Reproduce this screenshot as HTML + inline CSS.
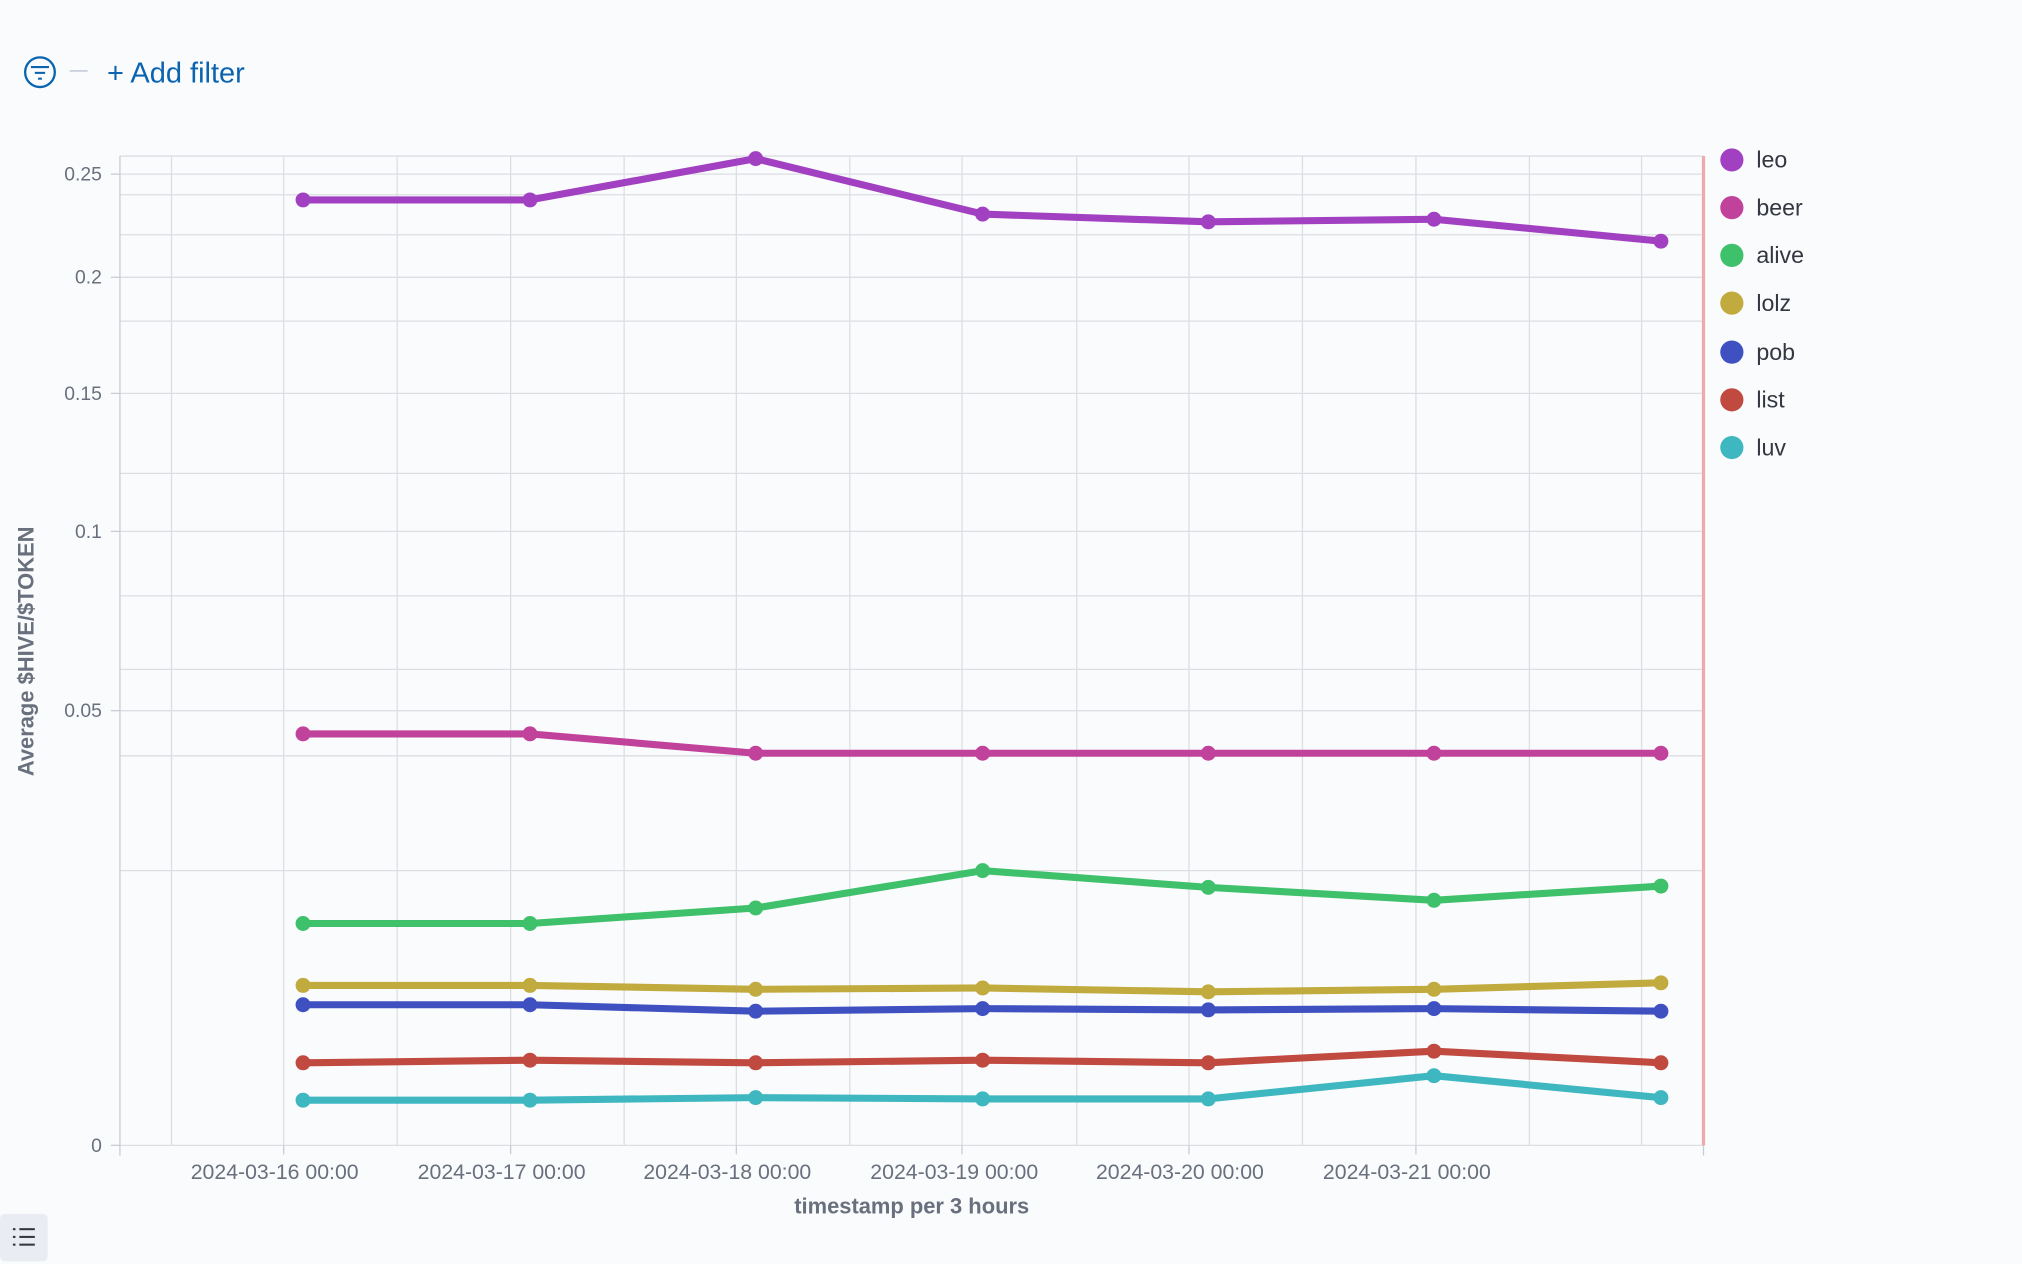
<!DOCTYPE html>
<html><head><meta charset="utf-8"><style>
html,body{margin:0;padding:0;background:#fafbfd;}
svg{display:block;font-family:"Liberation Sans",sans-serif;}
</style></head><body>
<svg width="2022" height="1264" viewBox="0 0 1568 980" preserveAspectRatio="none">
<rect width="1568" height="980" fill="#fafbfd"/>
<circle cx="31" cy="56" r="11.5" fill="none" stroke="#0b64b0" stroke-width="1.8"/>
<line x1="24" y1="52" x2="38" y2="52" stroke="#0b64b0" stroke-width="1.6"/>
<line x1="27" y1="56.5" x2="35" y2="56.5" stroke="#0b64b0" stroke-width="1.6"/>
<line x1="29.5" y1="61" x2="32.5" y2="61" stroke="#0b64b0" stroke-width="1.6"/>
<line x1="54" y1="55" x2="68" y2="55" stroke="#cdd3de" stroke-width="1.5"/>
<text x="83" y="64" font-size="22.5" fill="#0b64b0">+ Add filter</text>
<g stroke="#dcdee3" stroke-width="1">
<line x1="93" x2="1321" y1="121" y2="121"/>
<line x1="93" x2="1321" y1="151" y2="151"/>
<line x1="93" x2="1321" y1="182" y2="182"/>
<line x1="93" x2="1321" y1="249" y2="249"/>
<line x1="93" x2="1321" y1="367" y2="367"/>
<line x1="93" x2="1321" y1="462" y2="462"/>
<line x1="93" x2="1321" y1="519" y2="519"/>
<line x1="93" x2="1321" y1="586" y2="586"/>
<line x1="93" x2="1321" y1="675" y2="675"/>
<line x1="93" x2="1321" y1="135" y2="135"/>
<line x1="93" x2="1321" y1="215" y2="215"/>
<line x1="93" x2="1321" y1="305" y2="305"/>
<line x1="93" x2="1321" y1="412" y2="412"/>
<line x1="93" x2="1321" y1="551" y2="551"/>
<line x1="93" x2="1321" y1="888" y2="888"/>
</g>
<g stroke="#dcdee3" stroke-width="1">
<line x1="133" x2="133" y1="121" y2="888"/><line x1="220" x2="220" y1="121" y2="888"/>
<line x1="308" x2="308" y1="121" y2="888"/><line x1="396" x2="396" y1="121" y2="888"/>
<line x1="484" x2="484" y1="121" y2="888"/><line x1="571" x2="571" y1="121" y2="888"/>
<line x1="659" x2="659" y1="121" y2="888"/><line x1="746" x2="746" y1="121" y2="888"/>
<line x1="835" x2="835" y1="121" y2="888"/><line x1="922" x2="922" y1="121" y2="888"/>
<line x1="1010" x2="1010" y1="121" y2="888"/><line x1="1098" x2="1098" y1="121" y2="888"/>
<line x1="1186" x2="1186" y1="121" y2="888"/><line x1="1273" x2="1273" y1="121" y2="888"/>
</g>
<line x1="93" x2="93" y1="121" y2="896" stroke="#c9ccd2"/>
<g stroke="#c9ccd2">
<line x1="86" x2="93" y1="135" y2="135"/><line x1="86" x2="93" y1="215" y2="215"/>
<line x1="86" x2="93" y1="305" y2="305"/><line x1="86" x2="93" y1="412" y2="412"/>
<line x1="86" x2="93" y1="551" y2="551"/><line x1="86" x2="93" y1="888" y2="888"/>
<line x1="220" x2="220" y1="888" y2="895"/><line x1="396" x2="396" y1="888" y2="895"/>
<line x1="571" x2="571" y1="888" y2="895"/><line x1="746" x2="746" y1="888" y2="895"/>
<line x1="922" x2="922" y1="888" y2="895"/><line x1="1098" x2="1098" y1="888" y2="895"/>
<line x1="1321" x2="1321" y1="888" y2="896"/>
</g>
<line x1="1321" x2="1321" y1="121" y2="888" stroke="#f0a8a8" stroke-width="2.5"/>
<g font-size="15" fill="#69707d" text-anchor="end">
<text x="79" y="140">0.25</text><text x="79" y="220">0.2</text>
<text x="79" y="310">0.15</text><text x="79" y="417">0.1</text>
<text x="79" y="556">0.05</text><text x="79" y="893">0</text>
</g>
<text transform="translate(26,505) rotate(-90)" font-size="17" font-weight="bold" fill="#69707d" text-anchor="middle">Average $HIVE/$TOKEN</text>
<g font-size="16.5" fill="#69707d" text-anchor="middle">
<text x="213" y="914">2024-03-16 00:00</text><text x="389" y="914">2024-03-17 00:00</text>
<text x="564" y="914">2024-03-18 00:00</text><text x="740" y="914">2024-03-19 00:00</text>
<text x="915" y="914">2024-03-20 00:00</text><text x="1091" y="914">2024-03-21 00:00</text>
</g>
<text x="707" y="941" font-size="17" font-weight="bold" fill="#69707d" text-anchor="middle">timestamp per 3 hours</text>
<g fill="none" stroke-width="5.5" stroke-linejoin="round" stroke-linecap="round">
<polyline stroke="#a240c2" points="235,155 411,155 586,123 762,166 937,172 1112,170 1288,187"/>
<polyline stroke="#c0429b" points="235,569 411,569 586,584 762,584 937,584 1112,584 1288,584"/>
<polyline stroke="#3fc06a" points="235,716 411,716 586,704 762,675 937,688 1112,698 1288,687"/>
<polyline stroke="#c1ab3e" points="235,764 411,764 586,767 762,766 937,769 1112,767 1288,762"/>
<polyline stroke="#3f50c0" points="235,779 411,779 586,784 762,782 937,783 1112,782 1288,784"/>
<polyline stroke="#c04a3f" points="235,824 411,822 586,824 762,822 937,824 1112,815 1288,824"/>
<polyline stroke="#3fb7c0" points="235,853 411,853 586,851 762,852 937,852 1112,834 1288,851"/>
</g>
<g>
<g fill="#a240c2"><circle cx="235" cy="155" r="5.8"/><circle cx="411" cy="155" r="5.8"/><circle cx="586" cy="123" r="5.8"/><circle cx="762" cy="166" r="5.8"/><circle cx="937" cy="172" r="5.8"/><circle cx="1112" cy="170" r="5.8"/><circle cx="1288" cy="187" r="5.8"/></g>
<g fill="#c0429b"><circle cx="235" cy="569" r="5.8"/><circle cx="411" cy="569" r="5.8"/><circle cx="586" cy="584" r="5.8"/><circle cx="762" cy="584" r="5.8"/><circle cx="937" cy="584" r="5.8"/><circle cx="1112" cy="584" r="5.8"/><circle cx="1288" cy="584" r="5.8"/></g>
<g fill="#3fc06a"><circle cx="235" cy="716" r="5.8"/><circle cx="411" cy="716" r="5.8"/><circle cx="586" cy="704" r="5.8"/><circle cx="762" cy="675" r="5.8"/><circle cx="937" cy="688" r="5.8"/><circle cx="1112" cy="698" r="5.8"/><circle cx="1288" cy="687" r="5.8"/></g>
<g fill="#c1ab3e"><circle cx="235" cy="764" r="5.8"/><circle cx="411" cy="764" r="5.8"/><circle cx="586" cy="767" r="5.8"/><circle cx="762" cy="766" r="5.8"/><circle cx="937" cy="769" r="5.8"/><circle cx="1112" cy="767" r="5.8"/><circle cx="1288" cy="762" r="5.8"/></g>
<g fill="#3f50c0"><circle cx="235" cy="779" r="5.8"/><circle cx="411" cy="779" r="5.8"/><circle cx="586" cy="784" r="5.8"/><circle cx="762" cy="782" r="5.8"/><circle cx="937" cy="783" r="5.8"/><circle cx="1112" cy="782" r="5.8"/><circle cx="1288" cy="784" r="5.8"/></g>
<g fill="#c04a3f"><circle cx="235" cy="824" r="5.8"/><circle cx="411" cy="822" r="5.8"/><circle cx="586" cy="824" r="5.8"/><circle cx="762" cy="822" r="5.8"/><circle cx="937" cy="824" r="5.8"/><circle cx="1112" cy="815" r="5.8"/><circle cx="1288" cy="824" r="5.8"/></g>
<g fill="#3fb7c0"><circle cx="235" cy="853" r="5.8"/><circle cx="411" cy="853" r="5.8"/><circle cx="586" cy="851" r="5.8"/><circle cx="762" cy="852" r="5.8"/><circle cx="937" cy="852" r="5.8"/><circle cx="1112" cy="834" r="5.8"/><circle cx="1288" cy="851" r="5.8"/></g>
</g>
<g font-size="18" fill="#343741">
<circle cx="1343" cy="124" r="9" fill="#a240c2"/><text x="1362" y="130">leo</text>
<circle cx="1343" cy="161" r="9" fill="#c0429b"/><text x="1362" y="167">beer</text>
<circle cx="1343" cy="198" r="9" fill="#3fc06a"/><text x="1362" y="204">alive</text>
<circle cx="1343" cy="235" r="9" fill="#c1ab3e"/><text x="1362" y="241">lolz</text>
<circle cx="1343" cy="273" r="9" fill="#3f50c0"/><text x="1362" y="279">pob</text>
<circle cx="1343" cy="310" r="9" fill="#c04a3f"/><text x="1362" y="316">list</text>
<circle cx="1343" cy="347" r="9" fill="#3fb7c0"/><text x="1362" y="353">luv</text>
</g>
<rect x="0" y="941" width="37" height="37" rx="4" fill="#e9edf3"/>
<g stroke="#343741" stroke-width="1.6">
<line x1="10" x2="12" y1="953" y2="953"/><line x1="15" x2="27" y1="953" y2="953"/>
<line x1="10" x2="12" y1="959" y2="959"/><line x1="15" x2="27" y1="959" y2="959"/>
<line x1="10" x2="12" y1="965" y2="965"/><line x1="15" x2="27" y1="965" y2="965"/>
</g>
</svg>
</body></html>
